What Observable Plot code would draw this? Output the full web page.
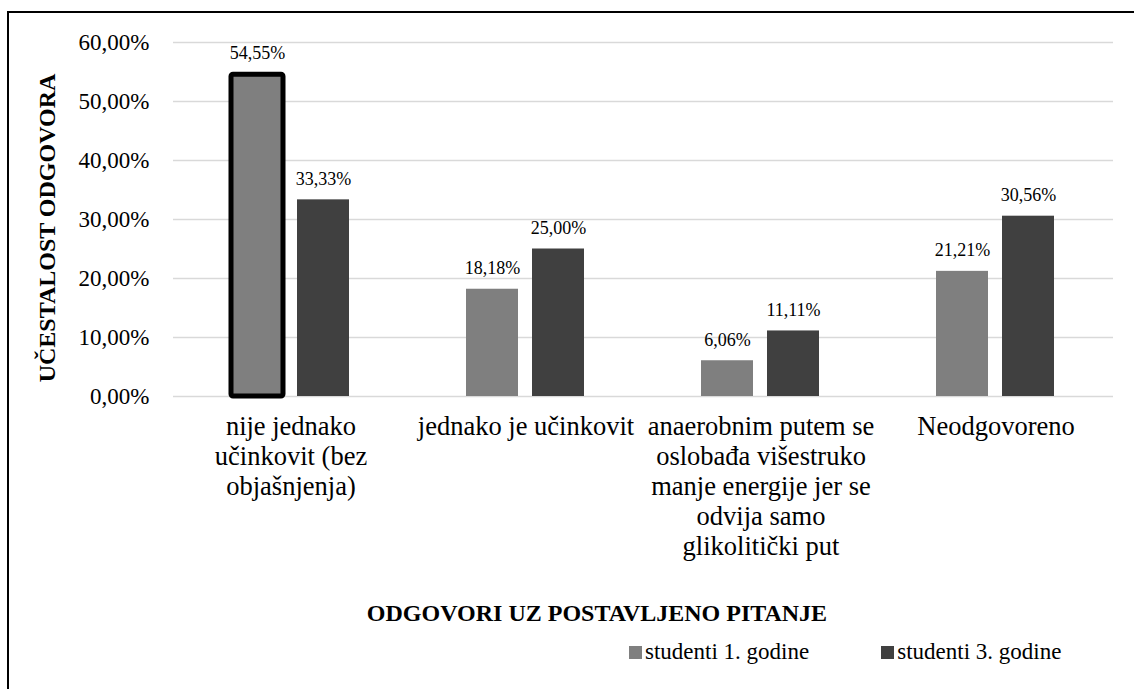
<!DOCTYPE html>
<html><head><meta charset="utf-8">
<script src="https://cdn.jsdelivr.net/npm/d3@7"></script>
<script src="https://cdn.jsdelivr.net/npm/@observablehq/plot@0.6"></script>
<style>
html,body{margin:0;padding:0;background:#fff;}
#wrap{position:relative;width:1134px;height:689px;overflow:hidden;font-family:"Liberation Serif",serif;color:#000;}
#chart{position:absolute;left:0;top:0;}
#chart svg text{font-family:"Liberation Serif",serif !important;}
#frameTop{position:absolute;left:7px;top:11px;width:1127px;height:2px;background:#000;}
#frameLeft{position:absolute;left:7px;top:11px;width:2px;height:678px;background:#000;}
.title{position:absolute;font-family:"Liberation Serif",serif;font-weight:bold;font-size:24px;white-space:nowrap;line-height:1;}
#ytitle{left:47px;top:228px;transform:translate(-50%,-50%) rotate(-90deg);}
#xtitle{left:597px;top:613px;transform:translate(-50%,-50%);}
#legend{position:absolute;left:629px;top:639px;}
#legend, #legend *{font-family:"Liberation Serif",serif !important;}
.lg-swatches{font-size:23px !important;color:#000 !important;margin:0 !important;min-height:0 !important;}
.lg-swatch{margin-right:72px !important;}
.lg-swatch > svg{margin-right:3px !important;}
</style></head>
<body>
<div id="wrap">
  <div id="chart"></div>
  <div id="frameTop"></div>
  <div id="frameLeft"></div>
  <div id="ytitle" class="title"></div>
  <div id="xtitle" class="title"></div>
  <div id="legend"></div>
</div>
<script>
const categories = ["nije jednako učinkovit (bez objašnjenja)", "jednako je učinkovit", "anaerobnim putem se oslobađa višestruko manje energije jer se odvija samo glikolitički put", "Neodgovoreno"];
const categoryLabels = ["nije jednako\nučinkovit (bez\nobjašnjenja)", "jednako je učinkovit", "anaerobnim putem se\noslobađa višestruko\nmanje energije jer se\nodvija samo\nglikolitički put", "Neodgovoreno"];
const series = ["studenti 1. godine", "studenti 3. godine"];
const values1 = [54.55, 18.18, 6.06, 21.21];
const values3 = [33.33, 25.00, 11.11, 30.56];
const colors = ["#7f7f7f", "#404040"];
const yTicks = [0, 10, 20, 30, 40, 50, 60];
const yTitle = "UČESTALOST ODGOVORA";
const xTitle = "ODGOVORI UZ POSTAVLJENO PITANJE";
const highlighted = {category: categories[0], series: series[0]};

const FONT = '"Liberation Serif", serif';
const data = categories.flatMap((c, i) => [
  {category: c, series: series[0], value: values1[i]},
  {category: c, series: series[1], value: values3[i]}
]);
const fmt = v => v.toFixed(2).replace(".", ",") + "%";
const labelOf = new Map(categories.map((c, i) => [c, categoryLabels[i]]));

const plot = Plot.plot({
  width: 1134, height: 689,
  marginTop: 42, marginBottom: 293, marginLeft: 172, marginRight: 21,
  style: {fontFamily: FONT, fontSize: "23px", color: "#000", background: "transparent", overflow: "visible"},
  fx: {domain: categories, padding: 0, label: null},
  x: {domain: series, paddingInner: 0.21, paddingOuter: 0.87, axis: null},
  y: {domain: [0, 60], label: null},
  color: {domain: series, range: colors},
  marks: [
    Plot.gridY(yTicks, {stroke: "#d9d9d9", strokeOpacity: 1, strokeWidth: 1.6}),
    Plot.axisY(yTicks, {tickSize: 0, tickPadding: 24, tickFormat: fmt, fontSize: 23, fontFamily: FONT, label: null}),
    Plot.axisFx({anchor: "bottom", tickSize: 0, tickPadding: 17, tickFormat: c => labelOf.get(c), fontSize: 26.5, fontFamily: FONT, lineHeight: 1.13, label: null}),
    Plot.barY(data, {fx: "category", x: "series", y: "value", fill: "series"}),
    Plot.barY(data.filter(d => d.category === highlighted.category && d.series === highlighted.series),
      {fx: "category", x: "series", y: "value", fill: "series", stroke: "#000", strokeWidth: 5, rx: 2}),
    Plot.text(data, {fx: "category", x: "series", y: "value", text: d => fmt(d.value), dy: -21, fontSize: 18, fontFamily: FONT, fill: "#000"})
  ]
});
document.getElementById("chart").appendChild(plot);
document.getElementById("ytitle").textContent = yTitle;
document.getElementById("xtitle").textContent = xTitle;
const lg = Plot.legend({color: {domain: series, range: colors}, legend: "swatches", swatchSize: 13, className: "lg", style: {fontFamily: FONT, fontSize: "23px", color: "#000"}});
document.getElementById("legend").appendChild(lg);
</script>
</body></html>
